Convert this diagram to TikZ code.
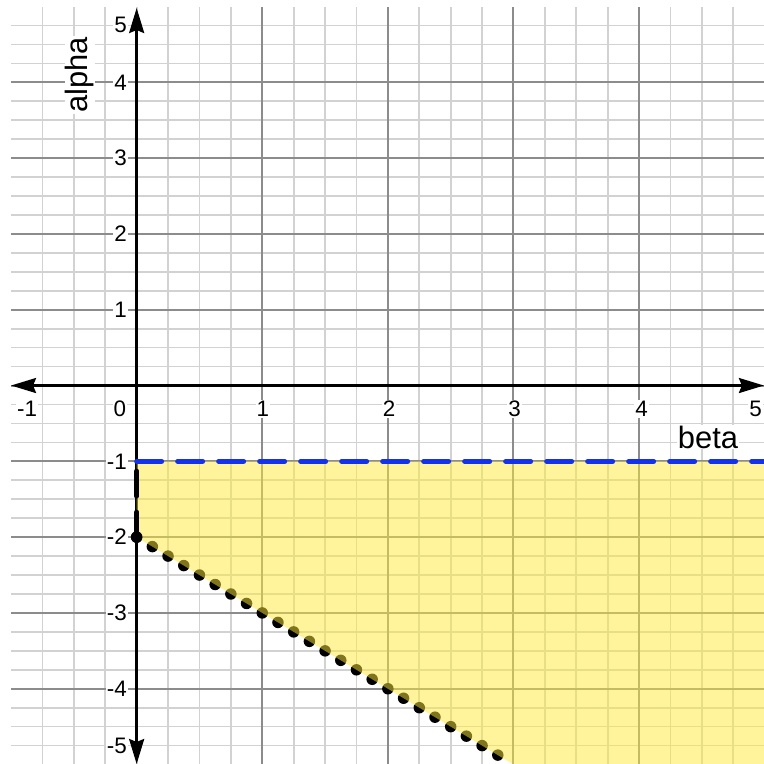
\documentclass[tikz,border=0pt]{standalone}
\usepackage{fontspec}
\setmainfont{Liberation Sans}
\usetikzlibrary{arrows.meta}
\definecolor{minorgrid}{RGB}{210,210,210}
\definecolor{majorgrid}{RGB}{140,140,140}
\definecolor{regionfill}{RGB}{255,235,59}
\definecolor{bndblue}{RGB}{20,50,235}
\begin{document}
\begin{tikzpicture}[x=125.6bp,y=75.8bp,
  minorline/.style={draw=minorgrid,line width=1.7bp},
  majorline/.style={draw=majorgrid,line width=2bp},
  axisline/.style={line width=2.4bp,
    {Stealth[length=25bp,width=15bp,inset=3bp]}-{Stealth[length=25bp,width=15bp,inset=3bp]}},
  numlab/.style={fill=white,inner sep=1bp,font=\fontsize{22.5}{26}\selectfont},
  axlab/.style={fill=white,inner sep=1bp,font=\fontsize{31}{36}\selectfont},
  dashedbnd/.style={line width=5bp,line cap=round,dash pattern=on 25bp off 16bp},
  dottedbnd/.style={line width=11.5bp,line cap=round,dash pattern=on 0bp off 18.34bp},
]
\useasboundingbox (-1.088,-4.993) rectangle (4.994,5.086);
\clip (-1.088,-4.993) rectangle (4.994,5.086);
\fill[white] (-1.088,-4.993) rectangle (4.994,5.086);
% grid
\foreach \i in {-3,...,20}{
  \draw[minorline] (\i/4,-5.1) -- (\i/4,5);
}
\foreach \i in {-20,...,19}{
  \draw[minorline] (-1,\i/4) -- (5.1,\i/4);
}
\foreach \i in {1,...,5}{
  \draw[majorline] (\i,-5.1) -- (\i,5);
}
\foreach \i in {-5,...,4}{
  \draw[majorline] (-1,\i) -- (5.1,\i);
}
% axes
\coordinate (xl) at (-1,0);
\coordinate (xr) at (4.994,0);
\coordinate (yt) at (0,4.98);
\coordinate (yb) at (0,-4.993);
\draw[axisline] (xl) -- (xr);
\draw[axisline] (yb) -- (yt);
% region vertices
\coordinate (A) at (0,-1);
\coordinate (B) at (5.1,-1);
\coordinate (C) at (5.1,-5.1);
\coordinate (D) at (3.1,-5.1);
\coordinate (E) at (0,-2);
\coordinate (F) at (3,-5);
% boundaries
\draw[dottedbnd,black] (E) -- (F);
\fill[regionfill,fill opacity=0.5] (A) -- (B) -- (C) -- (D) -- (E) -- cycle;
\draw[dashedbnd,black] (E) -- (A);
\fill[black] (E) circle (5.75bp);
\draw[dashedbnd,bndblue] (A) -- (B);
% x labels
\node[numlab] (xm1) at (-0.873,-0.31) {-1};
\node[numlab] (x0) at (-0.133,-0.31) {0};
\node[numlab] (x1) at (1.005,-0.31) {1};
\node[numlab] (x2) at (2.01,-0.31) {2};
\node[numlab] (x3) at (3.01,-0.31) {3};
\node[numlab] (x4) at (4.02,-0.31) {4};
\node[numlab] (x5) at (4.927,-0.31) {5};
% y labels
\node[numlab,anchor=east] (y5) at (-0.069,4.756) {5};
\node[numlab,anchor=east] (y4) at (-0.069,4) {4};
\node[numlab,anchor=east] (y3) at (-0.069,3) {3};
\node[numlab,anchor=east] (y2) at (-0.069,2) {2};
\node[numlab,anchor=east] (y1) at (-0.069,1) {1};
\node[numlab,anchor=east] (ym1) at (-0.069,-1) {-1};
\node[numlab,anchor=east] (ym2) at (-0.069,-2) {-2};
\node[numlab,anchor=east] (ym3) at (-0.069,-3) {-3};
\node[numlab,anchor=east] (ym4) at (-0.069,-4) {-4};
\node[numlab,anchor=east] (ym5) at (-0.069,-4.75) {-5};
% axis names
\node[axlab,anchor=base] (beta) at (4.549,-0.825) {beta};
\node[axlab,rotate=90,anchor=base] (alpha) at (-0.388,4.096) {alpha};
\end{tikzpicture}
\end{document}
